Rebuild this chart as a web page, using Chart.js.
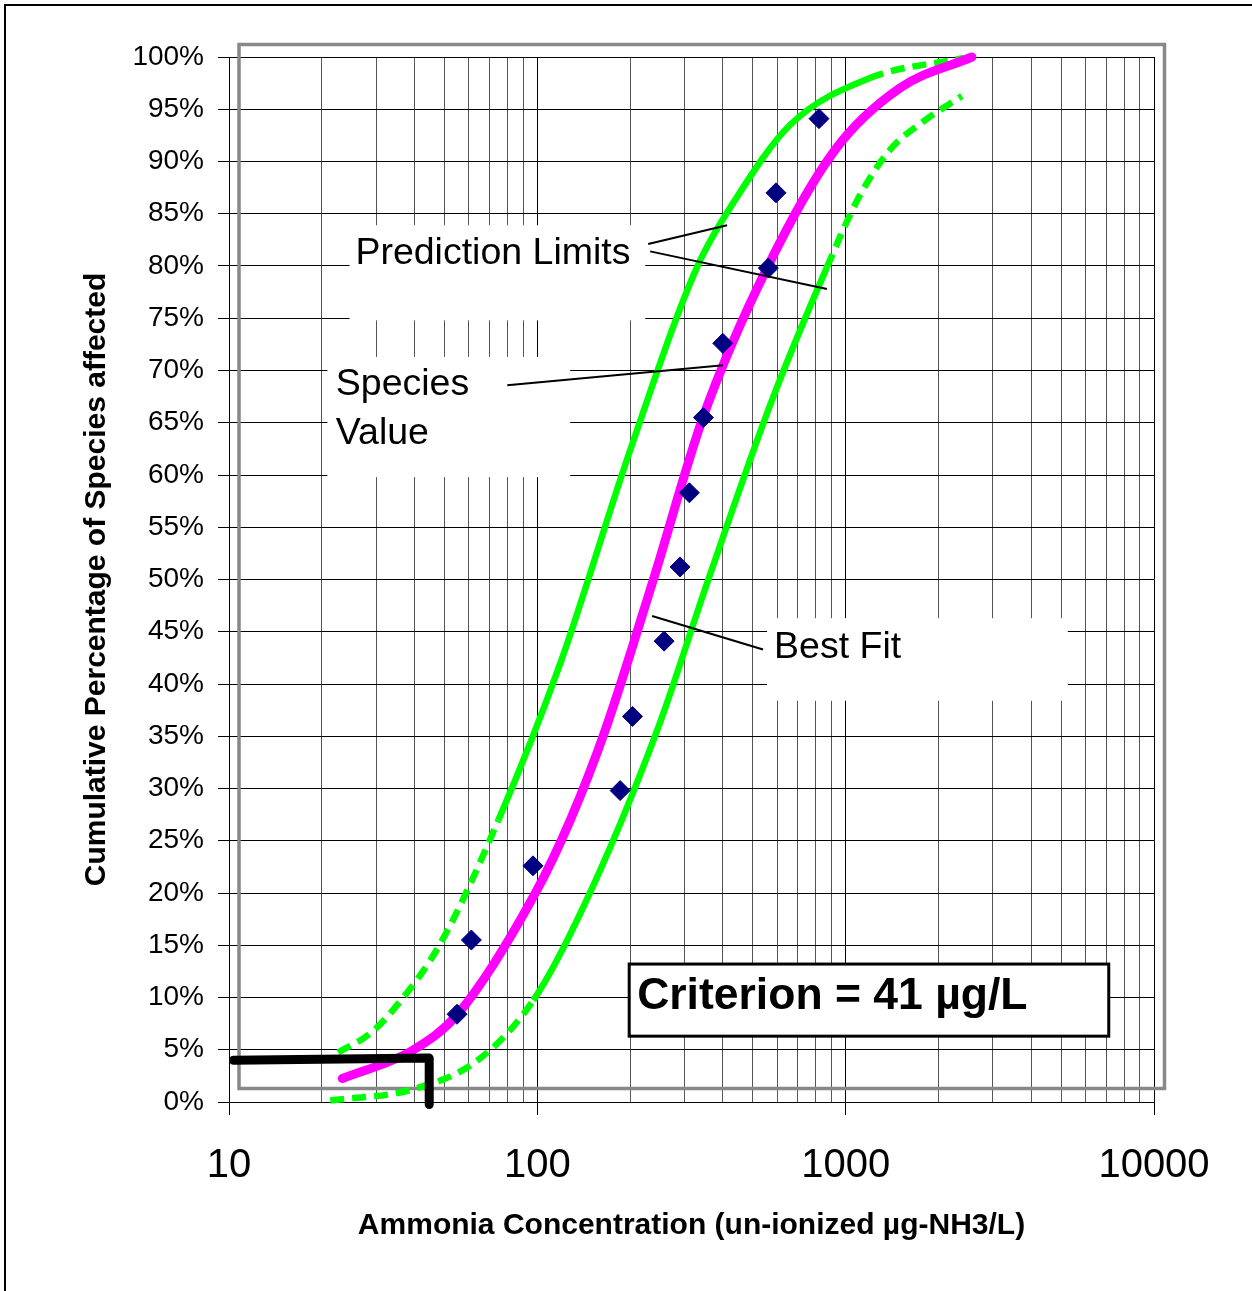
<!DOCTYPE html>
<html>
<head>
<meta charset="utf-8">
<title>Ammonia species sensitivity distribution</title>
<script src="https://cdn.jsdelivr.net/npm/chart.js@4.4.1/dist/chart.umd.min.js"></script>
<style>
  html, body { margin: 0; padding: 0; background: #fff; }
  #wrap { position: relative; width: 1252px; height: 1291px; }
</style>
</head>
<body>
<div id="wrap"><canvas id="ssd" width="1252" height="1291"></canvas></div>
<script>
// ── Data: un-ionized ammonia (µg NH3/L) vs cumulative % of species ──
const speciesConc = [54.9, 61.1, 96.8, 185.6, 203.5, 257.7, 290.4, 311.3, 345.6, 399.4, 561.3, 594.5, 819.4];
const speciesPct  = [8.4, 15.5, 22.6, 29.8, 36.9, 44.1, 51.2, 58.3, 65.5, 72.6, 79.8, 87.0, 94.1];

const fitConc = [23.3, 39.3, 55.4, 98.4, 127.8, 166.0, 237.5, 344.8, 555.9, 923.3, 1500, 2566];
const fitPct  = [2.25, 4.93, 8.47, 19.96, 26.95, 35.57, 49.93, 65.53, 79.8, 91.1, 97.03, 100.0];

const upperLimitConc = [22.6, 28.7, 34.6, 48.5, 74.7, 118.7, 200.0, 329.7, 437.8, 659.9, 1199, 2417];
const upperLimitPct  = [4.74, 6.56, 9.05, 15.17, 26.95, 41.98, 62.37, 79.89, 86.31, 93.49, 97.99, 99.9];

const lowerLimitConc = [21.3, 39.3, 63.9, 97.0, 140.8, 244.7, 357.9, 576.9, 869.8, 1100, 1391, 1820, 2382];
const lowerLimitPct  = [0.14, 1.2, 3.97, 9.72, 18.62, 35.57, 49.93, 67.16, 79.89, 86.5, 91.1, 94.0, 96.27];

// 5th-percentile marker
const criterionConc = [10.34, 44.6, 44.6];
const criterionPct  = [4.0, 4.2, -0.25];

// ── Axis ticks ─────────────────────────────────────────────
const xMajor = [10, 100, 1000, 10000];
const xMultipliers = [1, 2, 3, 4, 5, 6, 7, 8, 9];
const pctTicks = [0, 5, 10, 15, 20, 25, 30, 35, 40, 45, 50, 55, 60, 65, 70, 75, 80, 85, 90, 95, 100];

const xGrid = [];
xMajor.slice(0, -1).forEach(d => xMultipliers.forEach(m => xGrid.push(d * m)));
xGrid.push(xMajor[xMajor.length - 1]);

const toPoints = (xs, ys) => xs.map((x, i) => ({ x, y: ys[i] }));

// dashed where the curve runs outside [lo, hi] percent
const dashOutside = (lo, hi) => ctx => {
  const a = ctx.p0.parsed.y, b = ctx.p1.parsed.y;
  return (Math.max(a, b) <= lo || Math.min(a, b) >= hi) ? [14, 8] : undefined;
};

// ── Text boxes, leaders and frames ─────────────────────────
const FONT = "'Liberation Sans', Arial, Helvetica, sans-serif";
const callouts = [
  { box: [24.6, 83.9, 223.8, 74.8], text: [['Prediction Limits', 25.7, 80.23]],
    leaders: [[228.8, 82.1, 412.5, 83.9], [232.2, 81.4, 869.8, 77.8]] },
  { box: [20.85, 71.3, 127.8, 59.8], text: [['Species', 22.2, 67.64], ['Value', 22.2, 63.0]],
    leaders: [[79.9, 68.6, 400.3, 70.5]] },
  { box: [555.9, 46.3, 5254, 38.4], text: [['Best Fit', 585.8, 42.53]],
    leaders: [[235.6, 46.5, 539.5, 43.3]] }
];
const criterionBox = { box: [198.6, 13.2, 7133, 6.3], text: 'Criterion = 41 µg/L', at: [210.7, 8.86] };

const decorations = {
  id: 'decorations',
  beforeDraw(chart) {
    const ctx = chart.ctx;
    ctx.save();
    ctx.strokeStyle = '#000';
    ctx.lineWidth = 2;
    ctx.strokeRect(5, 5, chart.width + 20, chart.height + 20);
    ctx.restore();
  },
  beforeDatasetsDraw(chart) {
    const { ctx, chartArea: a } = chart;
    ctx.save();
    ctx.strokeStyle = '#888';
    ctx.lineWidth = 3.5;
    ctx.strokeRect(a.left + 10, a.top - 12.5, a.right - a.left + 0.5, a.bottom - a.top - 1);
    ctx.restore();
  },
  afterDatasetsDraw(chart) {
    const { ctx } = chart;
    const sx = v => chart.scales.x.getPixelForValue(v);
    const sy = v => chart.scales.y.getPixelForValue(v);
    ctx.save();
    callouts.forEach(c => {
      const [x0, y0, x1, y1] = c.box;
      ctx.fillStyle = '#fff';
      ctx.fillRect(sx(x0), sy(y0), sx(x1) - sx(x0), sy(y1) - sy(y0));
      ctx.fillStyle = '#000';
      ctx.font = '37.5px ' + FONT;
      ctx.textBaseline = 'alphabetic';
      ctx.textAlign = 'left';
      c.text.forEach(([t, x, y]) => ctx.fillText(t, sx(x), sy(y)));
      ctx.strokeStyle = '#000';
      ctx.lineWidth = 2;
      c.leaders.forEach(([ax, ay, bx, by]) => {
        ctx.beginPath();
        ctx.moveTo(sx(ax), sy(ay));
        ctx.lineTo(sx(bx), sy(by));
        ctx.stroke();
      });
    });
    const [x0, y0, x1, y1] = criterionBox.box;
    ctx.fillStyle = '#fff';
    ctx.fillRect(sx(x0), sy(y0), sx(x1) - sx(x0), sy(y1) - sy(y0));
    ctx.strokeStyle = '#000';
    ctx.lineWidth = 3;
    ctx.strokeRect(sx(x0), sy(y0), sx(x1) - sx(x0), sy(y1) - sy(y0));
    ctx.fillStyle = '#000';
    ctx.font = 'bold 44.5px ' + FONT;
    ctx.fillText(criterionBox.text, sx(criterionBox.at[0]), sy(criterionBox.at[1]));
    ctx.restore();
  }
};

Chart.defaults.font.family = FONT;
Chart.defaults.color = '#000';

new Chart(document.getElementById('ssd'), {
  type: 'scatter',
  data: {
    datasets: [
      {
        label: 'Criterion',
        data: toPoints(criterionConc, criterionPct),
        showLine: true,
        borderColor: '#000',
        borderWidth: 9,
        borderCapStyle: 'round',
        borderJoinStyle: 'round',
        pointRadius: 0,
        clip: false
      },
      {
        label: 'Species Value',
        data: toPoints(speciesConc, speciesPct),
        pointStyle: 'rectRot',
        pointRadius: 10,
        backgroundColor: '#000080',
        borderColor: '#000080',
        borderWidth: 1,
        clip: false
      },
      {
        label: 'Best Fit',
        data: toPoints(fitConc, fitPct),
        showLine: true,
        borderColor: '#ff00ff',
        borderWidth: 9,
        borderCapStyle: 'round',
        cubicInterpolationMode: 'monotone',
        pointRadius: 0,
        clip: false
      },
      {
        label: 'Upper Prediction Limit',
        data: toPoints(upperLimitConc, upperLimitPct),
        showLine: true,
        borderColor: '#00ff00',
        borderWidth: 6.5,
        borderCapStyle: 'butt',
        cubicInterpolationMode: 'monotone',
        pointRadius: 0,
        segment: { borderDash: dashOutside(27, 97.5) },
        clip: false
      },
      {
        label: 'Lower Prediction Limit',
        data: toPoints(lowerLimitConc, lowerLimitPct),
        showLine: true,
        borderColor: '#00ff00',
        borderWidth: 6.5,
        borderCapStyle: 'butt',
        cubicInterpolationMode: 'monotone',
        pointRadius: 0,
        segment: { borderDash: dashOutside(10, 70) },
        clip: false
      }
    ]
  },
  options: {
    responsive: false,
    animation: false,
    events: [],
    layout: { padding: { left: 0, top: 57, right: 98, bottom: 0 } },
    plugins: {
      legend: { display: false },
      tooltip: { enabled: false }
    },
    scales: {
      x: {
        type: 'logarithmic',
        min: 10,
        max: 10000,
        afterBuildTicks: s => { s.ticks = xGrid.map(v => ({ value: v, major: xMajor.includes(v) })); },
        afterFit: s => { s.height = 189; },
        grid: {
          color: c => xMajor.includes(c.tick.value) ? '#000' : '#555',
          tickColor: c => xMajor.includes(c.tick.value) ? '#000' : 'rgba(0,0,0,0)',
          tickLength: 13,
          lineWidth: 1
        },
        border: { color: '#000', width: 1 },
        ticks: {
          autoSkip: false,
          maxRotation: 0,
          padding: 27,
          color: '#000',
          font: { size: 40, lineHeight: 1.2 },
          callback: v => xMajor.includes(v) ? String(v) : ''
        },
        title: {
          display: true,
          text: 'Ammonia Concentration (un-ionized µg-NH3/L)',
          color: '#000',
          font: { size: 30, weight: 'bold', lineHeight: 1.2 },
          padding: { top: 0, bottom: 47 }
        }
      },
      y: {
        min: 0,
        max: 100,
        afterBuildTicks: s => { s.ticks = pctTicks.map(v => ({ value: v })); },
        afterFit: s => { s.width = 229; },
        grid: { color: '#000', tickLength: 11, lineWidth: 1 },
        border: { color: '#000', width: 1 },
        ticks: {
          padding: 14,
          color: '#000',
          font: { size: 28, lineHeight: 1.2 },
          callback: v => v + '%'
        },
        title: {
          display: true,
          text: 'Cumulative Percentage of Species affected',
          color: '#000',
          font: { size: 30, weight: 'bold', lineHeight: 1.2 },
          padding: { top: 79, bottom: 0 }
        }
      }
    }
  },
  plugins: [decorations]
});
</script>
</body>
</html>
